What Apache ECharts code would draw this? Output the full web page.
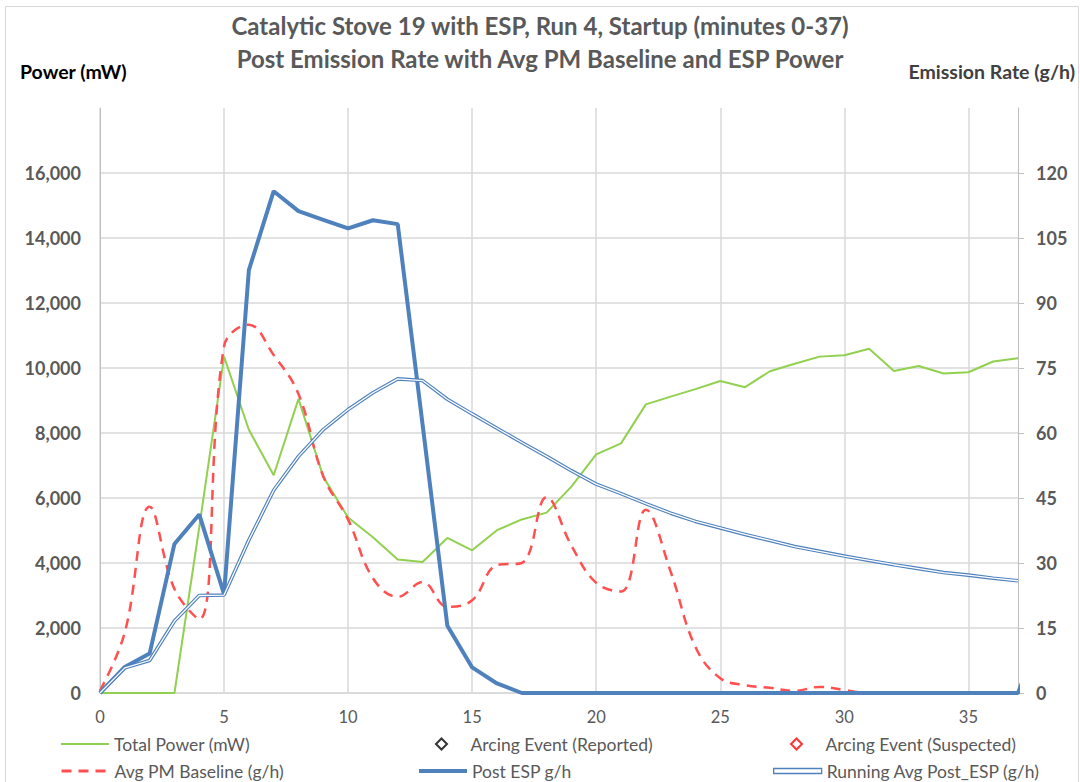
<!DOCTYPE html>
<html>
<head>
<meta charset="utf-8">
<script src="https://cdn.jsdelivr.net/npm/echarts@6/dist/echarts.min.js"></script>
<style>
  html, body { margin: 0; padding: 0; background: #fff; }
  #chart { width: 1080px; height: 782px; }
</style>
</head>
<body>
<div id="chart"></div>
<script>
// Elapsed minutes of the startup phase
const minutes = [0,1,2,3,4,5,6,7,8,9,10,11,12,13,14,15,16,17,18,19,20,21,22,23,24,25,26,27,28,29,30,31,32,33,34,35,36,37];

// ESP total power draw (mW), left axis
const totalPower = [0,0,0,0,5100,10350,8100,6700,9050,6650,5400,4790,4110,4030,4770,4390,5010,5340,5550,6350,7340,7680,8880,9120,9350,9600,9410,9900,10130,10350,10390,10590,9910,10060,9830,9870,10200,10300];

// Average PM baseline emission rate (g/h), right axis
const avgPmBaseline = [0.5,14,43,24,17,80,85,78,69,50,40,26.5,22.2,25.6,19.9,21.4,29.5,30,45.2,34,25.4,23.4,42.3,28,10.6,3.4,1.8,1.2,0.5,1.4,0.7,0,0,0,0,0,0,0];

// Emission rate downstream of the ESP (g/h), right axis
const postEsp = [0,6,9.1,34.4,41.2,22.8,97.6,115.8,111.2,109.2,107.2,109.1,108.2,62,15.5,5.9,2.2,0,0,0,0,0,0,0,0,0,0,0,0,0,0,0,0,0,0,0,0,0];
// Next logged reading (minute 38), just past the plotted window
const postEspNext = [38, 15];

// Running average of the post-ESP emission rate (g/h), right axis
const runningAvgPostEsp = [0,5.8,7.5,16.6,22.5,22.6,35.3,46.8,54.6,60.8,65.4,69.3,72.5,72.1,67.8,64.4,61.1,57.8,54.6,51.3,48.2,46.0,43.7,41.5,39.6,38.1,36.6,35.2,33.8,32.7,31.6,30.6,29.6,28.7,27.8,27.2,26.5,25.9];

// Arcing events (none recorded in this window)
const arcingReported = [];
const arcingSuspected = [];

const pairs = (vals) => minutes.map((m, i) => [m, vals[i]]);

const FONT = 'Lato, "Open Sans", "DejaVu Sans", sans-serif';
const GREEN = '#92d050';
const RED = '#ff4f4f';
const BLUE = '#4f81bd';
const GRID = '#d9d9d9';
const AXIS = '#bfbfbf';
const TXT = '#595959';
const DIAMOND = 'path://M0,-1L1,0L0,1L-1,0Z';

const chart = echarts.init(document.getElementById('chart'), null, { renderer: 'svg' });

const legendBase = {
  orient: 'horizontal',
  itemWidth: 48,
  itemHeight: 14,
  selectedMode: false,
  padding: 0,
  textStyle: { fontFamily: FONT, fontSize: 17.5, color: TXT }
};
// Line entries: show the stroke only, no marker
const lineLegend = Object.assign({}, legendBase, { itemStyle: { opacity: 0 } });

chart.setOption({
  animation: false,
  backgroundColor: '#fff',
  textStyle: { fontFamily: FONT },
  title: {
    text: 'Catalytic Stove 19 with ESP, Run 4, Startup (minutes 0-37)\nPost Emission Rate with Avg PM Baseline and ESP Power',
    left: 'center',
    top: 4,
    textStyle: { fontFamily: FONT, fontSize: 24, fontWeight: 'bold', color: TXT, lineHeight: 33 }
  },
  graphic: [
    { type: 'rect', shape: { x: 5.5, y: 6.5, width: 1073, height: 800 }, style: { fill: 'none', stroke: GRID, lineWidth: 1 }, silent: true },
    { type: 'text', left: 20, top: 61, style: { text: 'Power (mW)', font: 'bold 19.5px ' + FONT, fill: '#000' } },
    { type: 'text', right: 5, top: 61, style: { text: 'Emission Rate (g/h)', font: 'bold 19.5px ' + FONT, fill: '#404040' } }
  ],
  legend: [
    Object.assign({}, lineLegend, { left: 60, top: 735, lineStyle: { width: 2 }, data: ['Total Power (mW)'] }),
    Object.assign({}, legendBase, {
      left: 435, top: 735, itemHeight: 11, icon: DIAMOND,
      itemStyle: { color: '#fff', borderColor: '#000', borderWidth: 2 },
      data: ['Arcing Event (Reported)']
    }),
    Object.assign({}, legendBase, {
      left: 790, top: 735, itemHeight: 11, icon: DIAMOND,
      itemStyle: { color: '#fff', borderColor: '#ff0000', borderWidth: 2 },
      data: ['Arcing Event (Suspected)']
    }),
    Object.assign({}, lineLegend, { left: 60, top: 762, lineStyle: { width: 3, type: [10, 7] }, data: ['Avg PM Baseline (g/h)'] }),
    Object.assign({}, lineLegend, { left: 417, top: 762, lineStyle: { width: 4 }, data: ['Post ESP g/h'] }),
    Object.assign({}, legendBase, {
      left: 773, top: 762, itemHeight: 5, icon: 'rect',
      itemStyle: { color: '#fff', borderColor: BLUE, borderWidth: 1.3 },
      data: ['Running Avg Post_ESP (g/h)']
    })
  ],
  grid: { left: 100, right: 62, top: 108, bottom: 89, containLabel: false },
  xAxis: {
    type: 'value',
    min: 0, max: 37, interval: 5,
    axisLine: { show: true, lineStyle: { color: GRID, width: 1.5 } },
    axisTick: { show: false },
    axisLabel: { showMaxLabel: false, margin: 15, fontFamily: FONT, fontSize: 16.5, color: TXT },
    splitLine: { show: true, showMaxLine: false, lineStyle: { color: GRID, width: 1.5 } }
  },
  yAxis: [
    {
      type: 'value',
      min: 0, max: 18000, interval: 2000,
      axisLine: { show: true, lineStyle: { color: AXIS, width: 1 } },
      axisTick: { show: false },
      axisLabel: { showMaxLabel: false, margin: 19, fontFamily: FONT, fontSize: 18, fontWeight: 'bold', color: TXT },
      splitLine: { show: true, showMaxLine: false, lineStyle: { color: GRID, width: 1.5 } }
    },
    {
      type: 'value',
      position: 'right',
      min: 0, max: 135, interval: 15,
      axisLine: { show: true, lineStyle: { color: AXIS, width: 1 } },
      axisTick: { show: true, inside: false, length: 6, lineStyle: { color: AXIS } },
      axisLabel: { showMaxLabel: false, margin: 18, fontFamily: FONT, fontSize: 18, fontWeight: 'bold', color: TXT },
      splitLine: { show: false }
    }
  ],
  series: [
    {
      name: 'Total Power (mW)', type: 'line', yAxisIndex: 0,
      data: pairs(totalPower), symbol: 'none',
      lineStyle: { color: GREEN, width: 2 }, itemStyle: { color: GREEN }, z: 2
    },
    {
      name: 'Arcing Event (Reported)', type: 'scatter', yAxisIndex: 1,
      data: arcingReported, symbol: DIAMOND, symbolSize: 11,
      itemStyle: { color: '#fff', borderColor: '#000', borderWidth: 2 }
    },
    {
      name: 'Arcing Event (Suspected)', type: 'scatter', yAxisIndex: 1,
      data: arcingSuspected, symbol: DIAMOND, symbolSize: 11,
      itemStyle: { color: '#fff', borderColor: '#ff0000', borderWidth: 2 }
    },
    {
      name: 'Avg PM Baseline (g/h)', type: 'line', yAxisIndex: 1,
      data: pairs(avgPmBaseline), symbol: 'none', smooth: 0.4,
      lineStyle: { color: RED, width: 2.5, type: [10, 7] }, itemStyle: { color: RED }, z: 3
    },
    {
      name: 'Post ESP g/h', type: 'line', yAxisIndex: 1,
      data: pairs(postEsp).concat([postEspNext]), symbol: 'none',
      lineStyle: { color: BLUE, width: 4 }, itemStyle: { color: BLUE }, z: 4
    },
    {
      name: 'Running Avg Post_ESP (g/h)', type: 'line', yAxisIndex: 1,
      data: pairs(runningAvgPostEsp), symbol: 'none',
      lineStyle: { color: BLUE, width: 3.6 }, itemStyle: { color: BLUE }, z: 5
    },
    {
      name: 'Running Avg core', type: 'line', yAxisIndex: 1,
      data: pairs(runningAvgPostEsp), symbol: 'none',
      lineStyle: { color: '#fff', width: 1.3 }, itemStyle: { color: '#fff' }, z: 6
    }
  ]
});
</script>
</body>
</html>
